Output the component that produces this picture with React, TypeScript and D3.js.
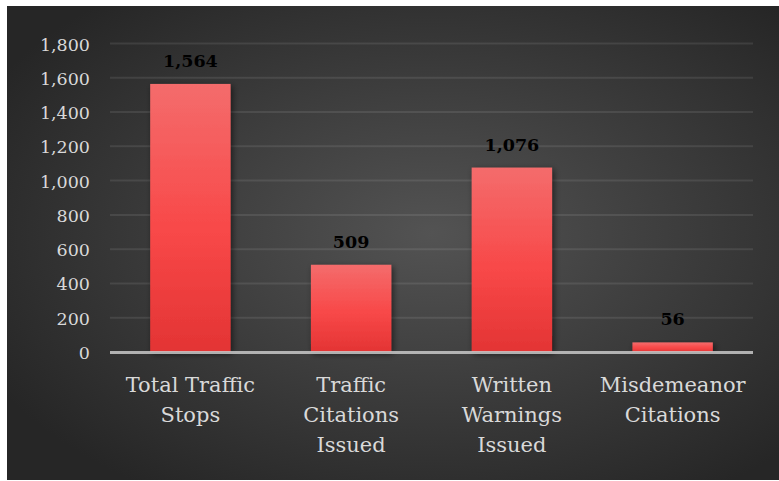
import React from "react";
import * as d3 from "d3";

const categories: string[][] = [
  ["Total Traffic", "Stops"],
  ["Traffic", "Citations", "Issued"],
  ["Written", "Warnings", "Issued"],
  ["Misdemeanor", "Citations"],
];
const values: number[] = [1564, 509, 1076, 56];
const yTicks: number[] = [0, 200, 400, 600, 800, 1000, 1200, 1400, 1600, 1800];

const W = 779;
const H = 481;

export default function App() {
  const plotLeft = 110;
  const plotRight = 753;
  const y = d3.scaleLinear().domain([0, 1800]).range([352, 43.5]);
  const x = d3
    .scaleBand<number>()
    .domain(values.map((_, i) => i))
    .range([plotLeft, plotRight])
    .paddingInner(0.5)
    .paddingOuter(0.25);
  const fmt = d3.format(",");
  const serif = { fontFamily: "'DejaVu Serif'" };

  return (
    <svg
      width={W}
      height={H}
      style={{ position: "absolute", left: 0, top: 0 }}
    >
      <defs>
        <radialGradient id="bg" cx="55%" cy="48%" r="65%" fx="55%" fy="48%">
          <stop offset="0%" stopColor="#535353" />
          <stop offset="100%" stopColor="#262626" />
        </radialGradient>
        <linearGradient id="bar" x1="0" y1="0" x2="0" y2="1">
          <stop offset="0%" stopColor="#f46c6c" />
          <stop offset="55%" stopColor="#f84848" />
          <stop offset="100%" stopColor="#e33434" />
        </linearGradient>
        <filter id="shadow" x="-20%" y="-20%" width="140%" height="140%">
          <feDropShadow dx="2" dy="2" stdDeviation="3" floodColor="#000" floodOpacity="0.55" />
        </filter>
      </defs>
      <rect x={0} y={0} width={W} height={H} fill="#ffffff" />
      <rect x={7} y={6} width={W - 7} height={H - 7} fill="url(#bg)" />

      {yTicks.map((t) =>
        t === 0 ? null : (
          <line
            key={"g" + t}
            x1={plotLeft}
            x2={plotRight}
            y1={y(t)}
            y2={y(t)}
            stroke="#ffffff"
            strokeOpacity={0.09}
            strokeWidth={2}
          />
        )
      )}
      {yTicks.map((t) => (
        <text
          key={"t" + t}
          x={90}
          y={y(t) + 7}
          textAnchor="end"
          style={serif}
          fontSize={17.5}
          fill="#d9d9d9"
        >
          {fmt(t)}
        </text>
      ))}

      {values.map((v, i) => (
        <rect
          key={"b" + i}
          x={x(i)}
          y={y(v)}
          width={x.bandwidth()}
          height={y(0) - y(v)}
          fill="url(#bar)"
          filter="url(#shadow)"
        />
      ))}

      <line
        x1={plotLeft}
        x2={plotRight}
        y1={y(0) + 0.5}
        y2={y(0) + 0.5}
        stroke="#c8c8c8"
        strokeOpacity={0.85}
        strokeWidth={3}
      />

      {values.map((v, i) => (
        <text
          key={"l" + i}
          x={(x(i) as number) + x.bandwidth() / 2}
          y={y(v) - 17}
          textAnchor="middle"
          style={serif}
          fontWeight="bold"
          fontSize={17.5}
          fill="#000000"
        >
          {fmt(v)}
        </text>
      ))}

      {categories.map((lines, i) => (
        <text
          key={"c" + i}
          x={(x(i) as number) + x.bandwidth() / 2}
          y={392}
          textAnchor="middle"
          style={serif}
          fontSize={21}
          fill="#d9d9d9"
        >
          {lines.map((ln, j) => (
            <tspan key={j} x={(x(i) as number) + x.bandwidth() / 2} dy={j === 0 ? 0 : 30}>
              {ln}
            </tspan>
          ))}
        </text>
      ))}
    </svg>
  );
}
